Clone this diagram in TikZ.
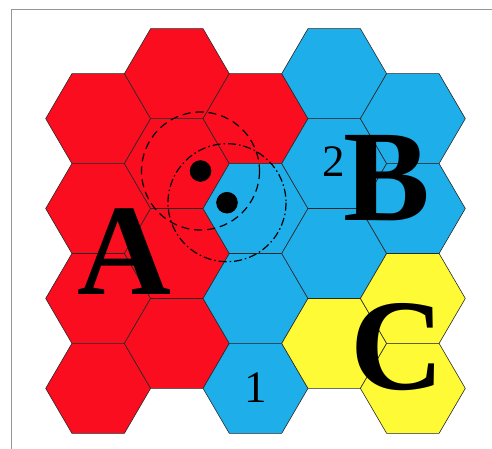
\documentclass[tikz,border=0pt]{standalone}
\usepackage{fontspec}
\setmainfont{Liberation Serif}
\definecolor{hexred}{RGB}{250,13,31}
\definecolor{hexblue}{RGB}{30,174,234}
\definecolor{hexyellow}{RGB}{254,250,54}
\definecolor{hexline}{RGB}{40,40,40}
\definecolor{framegray}{RGB}{150,150,150}
\begin{document}
\begin{tikzpicture}[x=1pt,y=-1pt,
  hexcell/.style={fill=#1, draw=hexline, line width=0.6pt},
  bigletter/.style={inner sep=0pt, anchor=base, font=\fontsize{130}{130}\selectfont\bfseries},
  digit/.style={inner sep=0pt, anchor=base, font=\fontsize{45}{45}\selectfont},
  ringdash/.style={line width=1.2pt, dash pattern=on 8pt off 5pt},
  ringdashdot/.style={line width=1.2pt, dash pattern=on 8pt off 3pt on 1.5pt off 3pt},
  dot/.style={fill=black}]
\useasboundingbox (0,0) rectangle (492,449);
% frame
\draw[framegray, line width=1pt] (11.5,449) -- (11.5,9.3) -- (492,9.3);
% hexagons
\foreach \c/\r/\col in {0/2/hexred,0/4/hexred,0/6/hexred,0/8/hexred,
  1/1/hexred,1/3/hexred,1/5/hexred,1/7/hexred,
  2/2/hexred,2/4/hexblue,2/6/hexblue,2/8/hexblue,
  3/1/hexblue,3/3/hexblue,3/5/hexblue,3/7/hexyellow,
  4/2/hexblue,4/4/hexblue,4/6/hexyellow,4/8/hexyellow}{
  \pgfmathsetmacro{\cx}{98.15+78.675*\c}
  \pgfmathsetmacro{\cy}{28.7+44.96*\r}
  \path[hexcell=\col] (\cx-52.45,\cy) -- (\cx-26.22,\cy-44.96) -- (\cx+26.22,\cy-44.96)
    -- (\cx+52.45,\cy) -- (\cx+26.22,\cy+44.96) -- (\cx-26.22,\cy+44.96) -- cycle;
}
% dots and rings
\coordinate (d1) at (200.5,171);
\coordinate (d2) at (227,202.7);
\draw[ringdash] (d1) circle[radius=59];
\draw[ringdashdot] (d2) circle[radius=59];
\fill[dot] (d1) circle[radius=10.8];
\fill[dot] (d2) circle[radius=10.8];
% letters
\node[bigletter] (A) at (124,294) {A};
\node[bigletter] (B) at (387,220) {B};
\node[bigletter] (C) at (397,389) {C};
\node[digit] (n2) at (334,177) {2};
\node[digit] (n1) at (255.5,402) {1};
\end{tikzpicture}
\end{document}
